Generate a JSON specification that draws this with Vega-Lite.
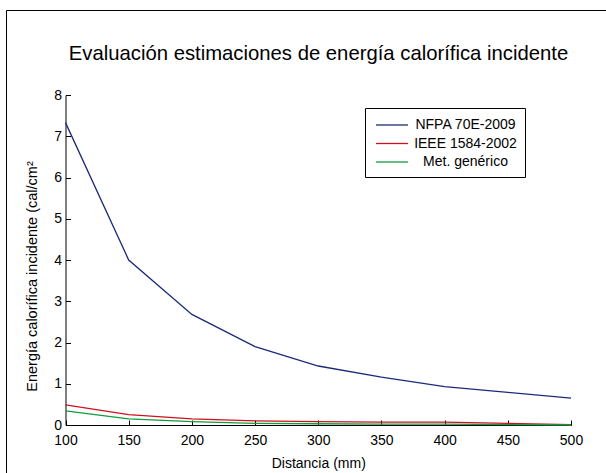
{
  "$schema": "https://vega.github.io/schema/vega-lite/v6.json",
  "width": 601,
  "height": 464,
  "autosize": "none",
  "padding": {"left": 6, "top": 10, "right": 0, "bottom": 0},
  "background": "white",
  "config": {
    "view": {"stroke": "black", "strokeWidth": 1},
    "font": "Liberation Sans"
  },
  "title": {
    "text": "Evaluación estimaciones de energía calorífica incidente",
    "fontSize": 20.3,
    "fontWeight": "normal",
    "color": "black",
    "font": "Liberation Sans",
    "anchor": "middle",
    "frame": "group",
    "baseline": "alphabetic",
    "offset": -70,
    "dx": 12
  },
  "data": {
    "values": [
      {"d": 100, "e": 7.33, "s": "NFPA 70E-2009"},
      {"d": 150, "e": 4.0, "s": "NFPA 70E-2009"},
      {"d": 200, "e": 2.68, "s": "NFPA 70E-2009"},
      {"d": 250, "e": 1.9, "s": "NFPA 70E-2009"},
      {"d": 300, "e": 1.43, "s": "NFPA 70E-2009"},
      {"d": 350, "e": 1.16, "s": "NFPA 70E-2009"},
      {"d": 400, "e": 0.93, "s": "NFPA 70E-2009"},
      {"d": 450, "e": 0.79, "s": "NFPA 70E-2009"},
      {"d": 500, "e": 0.65, "s": "NFPA 70E-2009"},
      {"d": 100, "e": 0.49, "s": "IEEE 1584-2002"},
      {"d": 150, "e": 0.25, "s": "IEEE 1584-2002"},
      {"d": 200, "e": 0.15, "s": "IEEE 1584-2002"},
      {"d": 250, "e": 0.1, "s": "IEEE 1584-2002"},
      {"d": 300, "e": 0.08, "s": "IEEE 1584-2002"},
      {"d": 350, "e": 0.07, "s": "IEEE 1584-2002"},
      {"d": 400, "e": 0.07, "s": "IEEE 1584-2002"},
      {"d": 450, "e": 0.04, "s": "IEEE 1584-2002"},
      {"d": 500, "e": 0.01, "s": "IEEE 1584-2002"},
      {"d": 100, "e": 0.34, "s": "Met. genérico"},
      {"d": 150, "e": 0.15, "s": "Met. genérico"},
      {"d": 200, "e": 0.08, "s": "Met. genérico"},
      {"d": 250, "e": 0.04, "s": "Met. genérico"},
      {"d": 300, "e": 0.03, "s": "Met. genérico"},
      {"d": 350, "e": 0.02, "s": "Met. genérico"},
      {"d": 400, "e": 0.02, "s": "Met. genérico"},
      {"d": 450, "e": 0.01, "s": "Met. genérico"},
      {"d": 500, "e": 0.0, "s": "Met. genérico"}
    ]
  },
  "mark": {"type": "line", "strokeWidth": 1.3, "clip": false},
  "encoding": {
    "x": {
      "field": "d",
      "type": "quantitative",
      "scale": {"domain": [100, 500], "range": [59.5, 565], "nice": false, "zero": false},
      "axis": {
        "title": "Distancia (mm)",
        "titleFontSize": 14,
        "titleFontWeight": "normal",
        "titleColor": "black",
        "titlePadding": 9,
        "values": [100, 150, 200, 250, 300, 350, 400, 450, 500],
        "grid": false,
        "offset": -49,
        "domainColor": "black",
        "tickColor": "black",
        "tickSize": -5,
        "labelFontSize": 14,
        "labelColor": "black",
        "labelPadding": 13,
        "labelFlush": false,
        "labelOverlap": false
      }
    },
    "y": {
      "field": "e",
      "type": "quantitative",
      "scale": {"domain": [0, 8], "range": [415, 85], "nice": false},
      "axis": {
        "title": "Energía calorífica incidente (cal/cm²",
        "titleFontSize": 14.5,
        "titleFontWeight": "normal",
        "titleColor": "black",
        "titlePadding": 14,
        "titleY": 266,
        "values": [0, 1, 2, 3, 4, 5, 6, 7, 8],
        "grid": false,
        "offset": -59.5,
        "domainColor": "black",
        "tickColor": "black",
        "tickSize": -5,
        "labelFontSize": 14,
        "labelColor": "black",
        "labelPadding": 9,
        "labelFlush": false,
        "labelOverlap": false
      }
    },
    "color": {
      "field": "s",
      "type": "nominal",
      "sort": ["NFPA 70E-2009", "IEEE 1584-2002", "Met. genérico"],
      "scale": {
        "domain": ["NFPA 70E-2009", "IEEE 1584-2002", "Met. genérico"],
        "range": ["#1c2a7a", "#d0101e", "#0e9e3c"]
      },
      "legend": {
        "title": null,
        "orient": "none",
        "legendX": 359,
        "legendY": 98,
        "symbolType": "M-2,0H2",
        "symbolSize": 256,
        "symbolOffset": 10,
        "symbolStrokeWidth": 1.3,
        "labelFontSize": 14,
        "labelColor": "black",
        "labelAlign": "center",
        "labelOffset": 64.5,
        "labelLimit": 200,
        "rowPadding": 2.5,
        "padding": 8,
        "strokeColor": "black",
        "fillColor": "white"
      }
    }
  }
}
